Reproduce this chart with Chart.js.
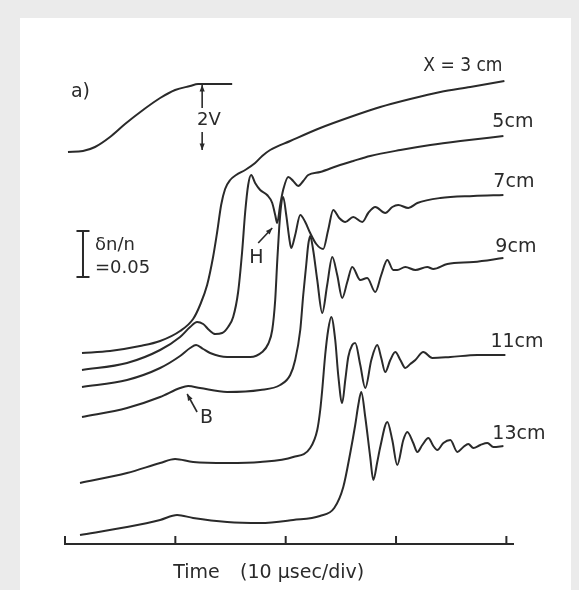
<!DOCTYPE html>
<html>
<head>
<meta charset="utf-8">
<script src="https://cdn.jsdelivr.net/npm/chart.js@4.4.1/dist/chart.umd.min.js"></script>
<style>
  html,body{margin:0;padding:0;background:#ebebeb;width:579px;height:590px;overflow:hidden;}
  #panel{position:absolute;left:20px;top:18px;width:551px;height:572px;background:#fff;}
  #c{position:absolute;left:0;top:0;}
</style>
</head>
<body>
<div id="panel"></div>
<canvas id="c" width="579" height="590"></canvas>
<script>
// Time axis in microseconds (10 µsec per division); traces' vertical position in arbitrary offset units
const xTicks = [0, 10, 20, 30, 40];
const seriesNames = ["X = 3 cm", "5cm", "7cm", "9cm", "11cm", "13cm"];

// applied voltage pulse (2 V step)
const tPulse = [0.27, 1.63, 2.72, 4.08, 5.44, 7.07, 8.62, 9.98, 11.34, 12.06, 15.15];
const vPulse = [392, 393, 397, 407, 420, 434, 446, 454, 458, 460, 460];

// X = 3 cm
const t3 = [1.54,4.08,6.80,8.62,10.43,11.61,12.24,12.88,13.42,13.79,14.15,14.51,14.97,15.51,16.33,17.23,17.87,18.59,20.41,23.13,25.85,28.57,31.29,34.01,36.73,39.82];
const v3 = [191,193,198,203,213,225,239,259,287,312,339,355,364,369,374,381,388,394,403,416,427,437,445,452,457,463];

// 5 cm
const t5 = [1.54,5.62,8.62,10.43,11.34,11.97,12.52,13.06,13.61,14.24,14.78,15.24,15.69,16.05,16.33,16.60,16.87,17.23,17.69,18.32,18.78,19.05,19.23,19.50,19.77,20.23,20.68,21.13,21.59,22.04,23.13,24.67,26.12,27.66,30.39,33.11,35.83,39.73];
const v5 = [174,181,194,207,217,222,220,214,210,211,217,227,252,292,332,359,369,361,354,349,341,329,321,339,354,367,363,358,363,369,372,378,383,388,394,399,403,408];

// 7 cm
const t7 = [1.54,5.62,8.62,10.43,11.34,11.88,12.52,13.15,14.69,16.78,17.87,18.41,18.78,19.05,19.23,19.41,19.59,19.77,20.05,20.32,20.50,20.86,21.32,21.77,22.22,22.77,23.40,23.85,24.31,24.85,25.40,26.12,26.94,27.48,28.12,29.02,29.66,30.20,31.11,31.93,34.01,37.01,39.73];
const v7 = [157,164,176,188,196,199,195,191,187,187,192,200,214,244,282,316,339,347,329,306,296,309,329,322,311,300,295,314,334,326,322,327,322,331,337,331,337,339,336,341,346,348,349];

// 9 cm
const t9 = [1.54,5.62,8.62,10.43,11.16,12.24,14.69,17.69,19.50,20.41,20.86,21.32,21.59,21.86,22.04,22.22,22.49,22.86,23.31,23.76,24.22,24.67,25.12,25.58,26.03,26.76,27.39,28.12,28.66,29.21,29.75,30.11,30.84,31.75,32.83,33.38,34.65,37.01,39.73];
const v9 = [127,136,147,156,158,156,152,154,159,169,184,214,249,279,299,308,294,264,231,259,287,269,246,262,277,264,266,252,269,284,274,274,277,274,277,275,280,282,286];

// 11 cm
const t11 = [1.36,5.62,8.62,9.98,11.61,14.69,17.69,20.68,22.22,22.86,23.13,23.31,23.58,23.85,24.13,24.49,24.76,25.12,25.40,25.67,26.03,26.30,26.76,27.21,27.76,28.30,28.66,29.02,29.48,29.93,30.39,30.84,31.29,31.75,32.47,33.29,34.92,37.37,39.91];
const v11 = [61,71,81,85,82,81,82,87,96,114,134,154,189,214,227,204,169,141,164,187,199,201,179,156,184,199,186,172,184,192,184,176,180,184,192,186,187,189,189];

// 13 cm
const t13 = [1.36,5.62,8.62,10.16,11.61,14.69,17.69,20.68,23.10,24.40,25.22,25.85,26.30,26.58,26.85,27.21,27.66,27.94,28.30,28.57,29.21,29.66,30.11,30.66,31.02,31.56,31.93,32.38,32.93,33.38,33.74,34.29,34.92,35.56,36.10,36.55,37.01,37.64,38.28,38.82,39.73];
const v13 = [9,17,24,29,26,22,21,24,28,36,57,91,119,139,152,127,87,64,82,97,122,104,79,104,112,101,92,99,106,98,94,101,104,92,97,100,96,99,101,97,98];

const ink = '#2a2a2a';
function pts(t, v){ return t.map((x,i)=>({x:x, y:v[i]})); }
function ds(t, v, label){
  return {label:label, data:pts(t,v), borderColor:ink, borderWidth:2, pointRadius:0,
          fill:false, cubicInterpolationMode:'monotone', clip:false};
}

const annot = {
  id:'annot',
  afterDraw(chart){
    const ctx = chart.ctx, xs = chart.scales.x, ys = chart.scales.y;
    const X = t => xs.getPixelForValue(t), Y = v => ys.getPixelForValue(v);
    ctx.save();
    ctx.fillStyle = ink; ctx.strokeStyle = ink;
    // tick marks pointing up from the time axis
    ctx.lineWidth = 2;
    xs.ticks.forEach(tk => {
      const px = X(tk.value);
      ctx.beginPath(); ctx.moveTo(px, xs.top - 1); ctx.lineTo(px, xs.top - 8); ctx.stroke();
    });
    // curve labels
    ctx.textBaseline = 'middle'; ctx.textAlign = 'left';
    ctx.font = '19px "DejaVu Sans Condensed", "DejaVu Sans"';
    ctx.fillText(seriesNames[0], X(32.47), Y(478));
    ctx.font = '19px "DejaVu Sans"';
    const lab = [[38.73,422,seriesNames[1]],[38.82,362,seriesNames[2]],
                 [39.0,297,seriesNames[3]],[38.55,202,seriesNames[4]],[38.73,110,seriesNames[5]]];
    lab.forEach(l => ctx.fillText(l[2], X(l[0]), Y(l[1])));
    ctx.fillText('a)', X(0.54), Y(452));
    ctx.fillText('B', X(12.24), Y(126));
    ctx.fillText('H', X(16.69), Y(286));
    // axis title
    ctx.fillText('Time', X(9.80), Y(-29));
    ctx.fillText('(10 μsec/div)', X(15.87), Y(-29));
    // 2V marker
    ctx.font = '18px "DejaVu Sans"';
    ctx.fillText('2V', X(11.97), Y(424));
    function arrow(x1,y1,x2,y2){ // arrowhead at (x2,y2)
      ctx.lineWidth = 1.6;
      ctx.beginPath(); ctx.moveTo(x1,y1); ctx.lineTo(x2,y2); ctx.stroke();
      const a = Math.atan2(y2-y1, x2-x1), L = 7, w = 0.38;
      ctx.beginPath(); ctx.moveTo(x2,y2);
      ctx.lineTo(x2 - L*Math.cos(a-w), y2 - L*Math.sin(a-w));
      ctx.lineTo(x2 - L*Math.cos(a+w), y2 - L*Math.sin(a+w));
      ctx.closePath(); ctx.fill();
    }
    arrow(X(12.43), Y(436), X(12.43), Y(459));
    arrow(X(12.43), Y(412), X(12.43), Y(394));
    arrow(X(11.97), Y(132), X(11.07), Y(150));
    arrow(X(17.51), Y(301), X(18.78), Y(316));
    // δn/n scale bar (0.05)
    ctx.lineWidth = 2;
    const bx = X(1.63), b1 = Y(313), b2 = Y(267);
    ctx.beginPath();
    ctx.moveTo(bx, b1); ctx.lineTo(bx, b2);
    ctx.moveTo(bx-6.5, b1); ctx.lineTo(bx+6.5, b1);
    ctx.moveTo(bx-6.5, b2); ctx.lineTo(bx+6.5, b2);
    ctx.stroke();
    ctx.font = '18px "DejaVu Sans"';
    ctx.fillText('δn/n', X(2.72), Y(299));
    ctx.fillText('=0.05', X(2.72), Y(276));
    ctx.restore();
  }
};

new Chart(document.getElementById('c'), {
  type:'line',
  data:{datasets:[
    ds(tPulse, vPulse, 'V'),
    ds(t3, v3, seriesNames[0]), ds(t5, v5, seriesNames[1]), ds(t7, v7, seriesNames[2]),
    ds(t9, v9, seriesNames[3]), ds(t11, v11, seriesNames[4]), ds(t13, v13, seriesNames[5])
  ]},
  options:{
    responsive:false, animation:false,
    layout:{padding:{left:65, right:66, top:20, bottom:46}},
    plugins:{legend:{display:false}, tooltip:{enabled:false}},
    scales:{
      x:{type:'linear', min:0, max:40.6,
         ticks:{display:false, stepSize:10, includeBounds:false},
         grid:{display:false, drawTicks:false},
         border:{display:true, color:ink, width:2},
         afterFit(s){ s.height = 0; }},
      y:{display:false, min:0, max:524}
    }
  },
  plugins:[annot]
});
</script>
</body>
</html>
